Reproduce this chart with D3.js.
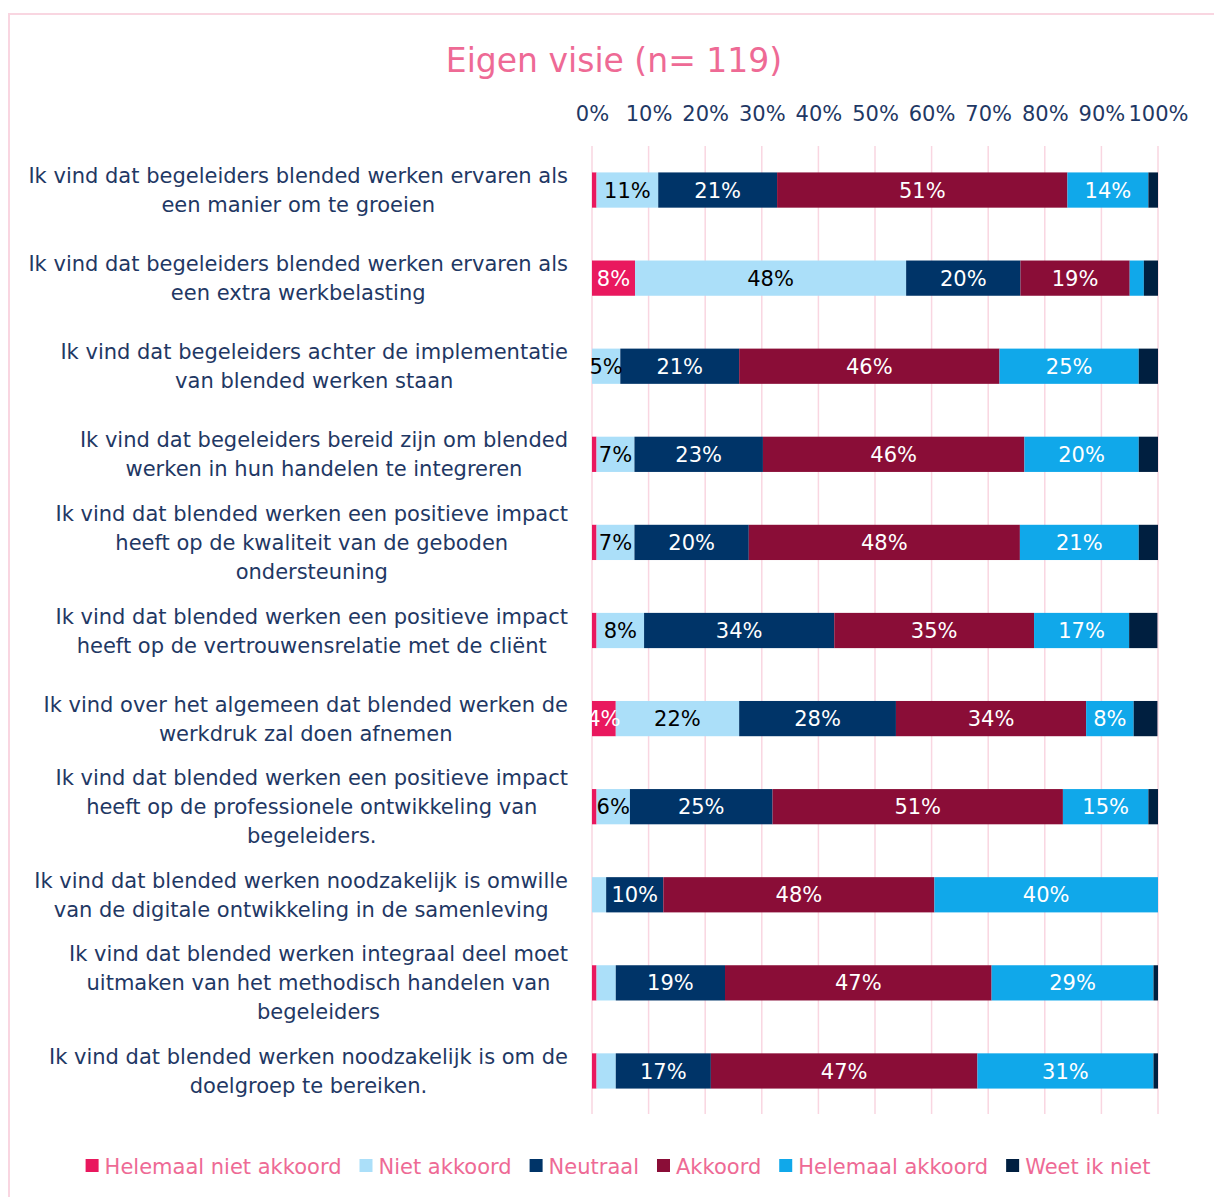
<!DOCTYPE html>
<html>
<head>
<meta charset="utf-8">
<script src="https://cdn.jsdelivr.net/npm/d3@7"></script>
<style>
  body { margin: 0; background: #fff; }
  svg text { font-family: "DejaVu Sans", Verdana, sans-serif; }
</style>
</head>
<body>
<svg id="chart" width="1214" height="1197"></svg>
<script>
// labels, wrapped like the original
var categories = [
    ["Ik vind dat begeleiders blended werken ervaren als", "een manier om te groeien"],
    ["Ik vind dat begeleiders blended werken ervaren als", "een extra werkbelasting"],
    ["Ik vind dat begeleiders achter de implementatie", "van blended werken staan"],
    ["Ik vind dat begeleiders bereid zijn om blended", "werken in hun handelen te integreren"],
    ["Ik vind dat blended werken een positieve impact", "heeft op de kwaliteit van de geboden", "ondersteuning"],
    ["Ik vind dat blended werken een positieve impact", "heeft op de vertrouwensrelatie met de cliënt"],
    ["Ik vind over het algemeen dat blended werken de", "werkdruk zal doen afnemen"],
    ["Ik vind dat blended werken een positieve impact", "heeft op de professionele ontwikkeling van", "begeleiders."],
    ["Ik vind dat blended werken noodzakelijk is omwille", "van de digitale ontwikkeling in de samenleving"],
    ["Ik vind dat blended werken integraal deel moet", "uitmaken van het methodisch handelen van", "begeleiders"],
    ["Ik vind dat blended werken noodzakelijk is om de", "doelgroep te bereiken."]
];

var seriesNames = ["Helemaal niet akkoord", "Niet akkoord", "Neutraal", "Akkoord", "Helemaal akkoord", "Weet ik niet"];
var seriesColors = ["#E9185E", "#ABDFF9", "#003468", "#8A0D37", "#10A8EA", "#001F40"];
var labelColors = ["#ffffff", "#000000", "#ffffff", "#ffffff", "#ffffff", "#ffffff"];

// percentages (n = 119)
var helemaalNiet = [0.8, 7.6, 0, 0.8, 0.8, 0.8, 4.2, 0.8, 0, 0.8, 0.8];
var niet         = [10.9, 47.9, 5.0, 6.7, 6.7, 8.4, 21.8, 5.9, 2.5, 3.4, 3.4];
var neutraal     = [21.0, 20.2, 21.0, 22.7, 20.2, 33.6, 27.7, 25.2, 10.1, 19.3, 16.8];
var akkoord      = [51.3, 19.3, 46.0, 46.2, 47.9, 35.3, 33.6, 51.3, 47.9, 47.1, 47.1];
var helemaal     = [14.3, 2.5, 24.6, 20.2, 21.0, 16.8, 8.4, 15.1, 39.5, 28.6, 31.1];
var weetNiet     = [1.7, 2.5, 3.4, 3.4, 3.4, 5.0, 4.2, 1.7, 0, 0.8, 0.8];

var xTicks = [0, 10, 20, 30, 40, 50, 60, 70, 80, 90, 100];

var allSeries = [helemaalNiet, niet, neutraal, akkoord, helemaal, weetNiet];

var rows = categories.map(function (c, i) {
    var r = { id: i };
    seriesNames.forEach(function (s, j) { r[s] = allSeries[j][i]; });
    return r;
});

var svg = d3.select("#chart");
var pink = "#EE6A95", navy = "#1F3864";

// outer frame
svg.append("rect")
    .attr("x", 9).attr("y", 14)
    .attr("width", 1230).attr("height", 1200)
    .attr("fill", "none")
    .attr("stroke", "#F9D6E1")
    .attr("stroke-width", 2);

var x = d3.scaleLinear().domain([0, 100]).range([592, 1158]);
var y = d3.scaleBand()
    .domain(d3.range(categories.length))
    .range([146, 1115])
    .paddingInner(0.6)
    .paddingOuter(0.3);

// title
svg.append("text")
    .attr("x", 614).attr("y", 72)
    .attr("text-anchor", "middle")
    .attr("fill", pink)
    .style("font-size", "33px")
    .text("Eigen visie (n= 119)");

// grid
svg.append("g")
    .selectAll("line")
    .data(xTicks)
    .join("line")
    .attr("x1", function (d) { return x(d); })
    .attr("x2", function (d) { return x(d); })
    .attr("y1", 146).attr("y2", 1114)
    .attr("stroke", "#F9D6E1")
    .attr("stroke-width", 1.5);

// top axis
var axis = svg.append("g")
    .attr("transform", "translate(0,146)")
    .call(d3.axisTop(x).tickValues(xTicks).tickSize(0).tickPadding(25)
        .tickFormat(function (d) { return d + "%"; }));
axis.select(".domain").remove();
axis.selectAll("text")
    .attr("fill", navy)
    .style("font-size", "21px")
    .style("font-family", "'DejaVu Sans', Verdana, sans-serif");

// stacked bars
var stack = d3.stack().keys(seriesNames)(rows);

var layers = svg.append("g")
    .selectAll("g")
    .data(stack)
    .join("g")
    .attr("fill", function (d, i) { return seriesColors[i]; });

layers.selectAll("rect")
    .data(function (d) { return d; })
    .join("rect")
    .attr("x", function (d) { return x(d[0]); })
    .attr("y", function (d) { return y(d.data.id); })
    .attr("width", function (d) { return x(d[1]) - x(d[0]); })
    .attr("height", y.bandwidth());

// value labels
stack.forEach(function (layer, i) {
    if (seriesNames[i] === "Weet ik niet") return;
    svg.append("g")
        .selectAll("text")
        .data(layer.filter(function (d) { return d[1] - d[0] >= 4; }))
        .join("text")
        .attr("x", function (d) { return x((d[0] + d[1]) / 2); })
        .attr("y", function (d) { return y(d.data.id) + y.bandwidth() / 2; })
        .attr("dy", "0.36em")
        .attr("text-anchor", "middle")
        .attr("fill", labelColors[i])
        .style("font-size", "21px")
        .text(function (d) { return Math.round(d[1] - d[0]) + "%"; });
});

// category labels: centred lines, block right-aligned
var lineH = 29;
categories.forEach(function (lines, i) {
    var cy = y(i) + y.bandwidth() / 2;
    var g = svg.append("g");
    var t = g.selectAll("text")
        .data(lines)
        .join("text")
        .attr("y", function (d, k) { return cy + (k - (lines.length - 1) / 2) * lineH; })
        .attr("dy", "0.36em")
        .attr("text-anchor", "middle")
        .attr("fill", navy)
        .style("font-size", "21px")
        .text(function (d) { return d; });
    var w = d3.max(t.nodes(), function (n) { return n.getComputedTextLength(); });
    t.attr("x", 568 - w / 2);
});

// legend
var legend = svg.append("g");
var lx = 0;
seriesNames.forEach(function (s, i) {
    var item = legend.append("g").attr("transform", "translate(" + lx + ",0)");
    item.append("rect")
        .attr("x", 0).attr("y", -7)
        .attr("width", 13).attr("height", 13)
        .attr("fill", seriesColors[i]);
    var tx = item.append("text")
        .attr("x", 19).attr("dy", "0.36em")
        .attr("fill", pink)
        .style("font-size", "21px")
        .text(s);
    lx += 19 + tx.node().getComputedTextLength() + 18;
});
lx -= 18;
legend.attr("transform", "translate(" + (618 - lx / 2) + ",1166)");
</script>
</body>
</html>
